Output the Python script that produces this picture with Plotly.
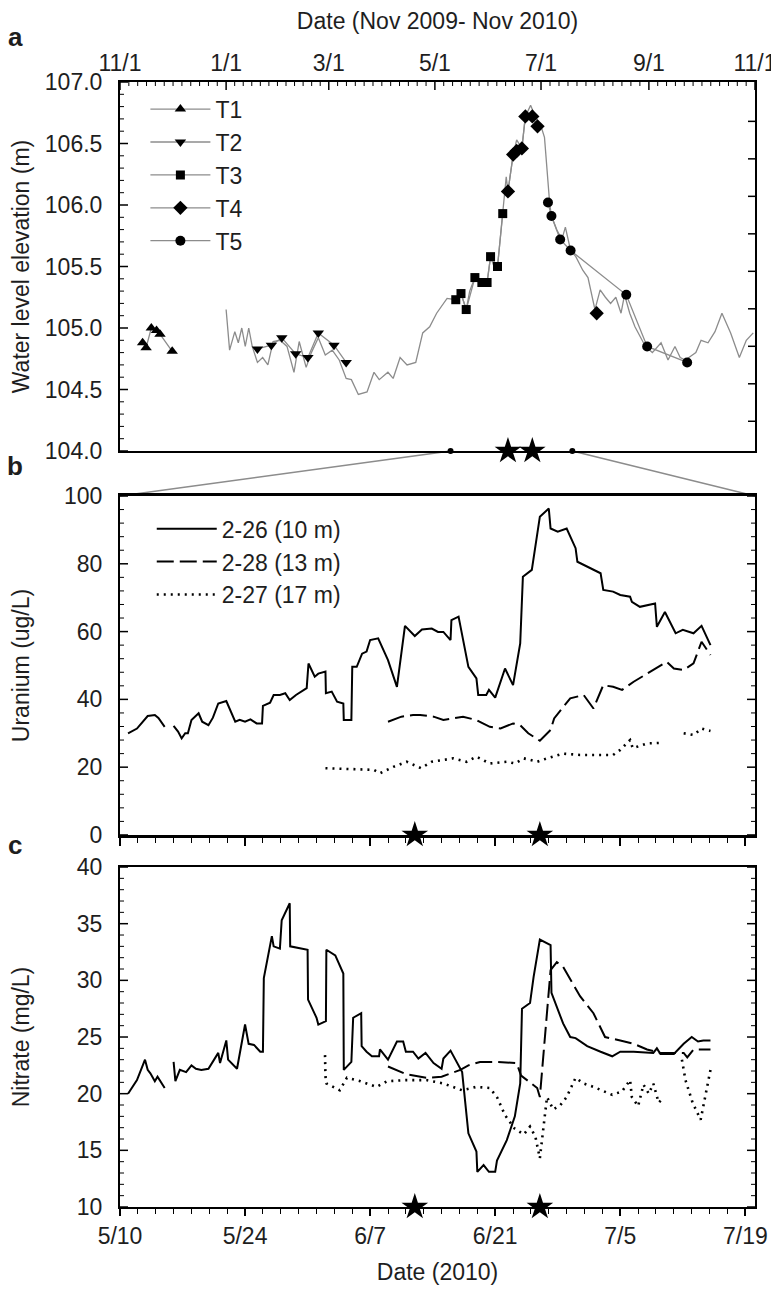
import plotly.graph_objects as go
import pandas as pd
import numpy as np

# ---------------- Panel a: water level (Nov 2009 - Nov 2010) ----------------
hydro_dates = ["2010-01-01", "2010-01-03", "2010-01-06", "2010-01-08", "2010-01-10", "2010-01-12",
               "2010-01-14", "2010-01-16", "2010-01-19", "2010-01-22", "2010-01-25", "2010-01-28",
               "2010-02-01", "2010-02-05", "2010-02-09", "2010-02-12", "2010-02-16", "2010-02-19",
               "2010-02-23", "2010-02-27", "2010-03-03", "2010-03-07", "2010-03-11", "2010-03-14",
               "2010-03-18", "2010-03-23", "2010-03-27", "2010-03-30", "2010-04-04", "2010-04-07",
               "2010-04-11", "2010-04-15", "2010-04-20", "2010-04-24", "2010-04-28", "2010-05-02",
               "2010-05-08", "2010-05-13", "2010-05-16", "2010-05-19", "2010-05-21", "2010-05-24",
               "2010-05-28", "2010-05-31", "2010-06-02", "2010-06-04", "2010-06-06", "2010-06-09",
               "2010-06-11", "2010-06-12", "2010-06-15", "2010-06-17", "2010-06-20", "2010-06-22",
               "2010-06-25", "2010-06-28", "2010-07-01", "2010-07-03", "2010-07-05", "2010-07-06",
               "2010-07-07", "2010-07-10", "2010-07-13", "2010-07-15", "2010-07-18", "2010-07-21",
               "2010-07-25", "2010-07-28", "2010-08-01", "2010-08-04", "2010-08-07", "2010-08-10",
               "2010-08-13", "2010-08-16", "2010-08-18", "2010-08-21", "2010-08-24", "2010-08-27",
               "2010-08-30", "2010-09-03", "2010-09-08", "2010-09-12", "2010-09-16", "2010-09-19",
               "2010-09-22", "2010-09-25", "2010-09-28", "2010-10-01", "2010-10-05", "2010-10-09",
               "2010-10-13", "2010-10-18", "2010-10-23", "2010-10-27", "2010-10-31"]
hydro_level = [105.15, 104.82, 104.97, 104.88, 105.00, 104.85,
               105.00, 104.85, 104.72, 104.76, 104.70, 104.89,
               104.90, 104.85, 104.64, 104.89, 104.68, 104.80,
               104.92, 104.78, 104.82, 104.74, 104.59, 104.58,
               104.46, 104.48, 104.64, 104.58, 104.64, 104.59,
               104.76, 104.70, 104.72, 104.96, 105.01, 105.12,
               105.24, 105.23, 105.28, 105.15, 105.30, 105.41,
               105.37, 105.37, 105.58, 105.50, 105.50, 105.93,
               106.23, 106.11, 106.41, 106.53, 106.46, 106.72,
               106.81, 106.71, 106.64, 106.55, 106.15, 106.01,
               105.91, 105.80, 105.72, 105.82, 105.63, 105.58,
               105.47, 105.41, 105.15, 105.31, 105.25, 105.20,
               105.25, 105.12, 105.27, 105.12, 105.01, 104.93,
               104.85, 104.80, 104.88, 104.74, 104.85, 104.76,
               104.74, 104.77, 104.80, 104.90, 104.88, 104.97,
               105.12, 104.96, 104.76, 104.90, 104.96]

t1_dates = ["2009-11-14", "2009-11-16", "2009-11-19", "2009-11-22", "2009-11-24", "2009-12-01"]
t1_level = [104.88, 104.84, 105.00, 104.98, 104.95, 104.81]
t2_dates = ["2010-01-19", "2010-01-27", "2010-02-02", "2010-02-10", "2010-02-17", "2010-02-23",
            "2010-03-04", "2010-03-11"]
t2_level = [104.83, 104.86, 104.92, 104.79, 104.76, 104.96, 104.86, 104.72]
t3_dates = ["2010-05-13", "2010-05-16", "2010-05-19", "2010-05-24", "2010-05-28", "2010-05-31",
            "2010-06-02", "2010-06-06", "2010-06-09"]
t3_level = [105.23, 105.28, 105.15, 105.41, 105.37, 105.37, 105.58, 105.50, 105.93]
t4_dates = ["2010-06-12", "2010-06-15", "2010-06-17", "2010-06-20", "2010-06-22", "2010-06-26",
            "2010-06-29", "2010-07-15", "2010-08-02"]
t4_level = [106.11, 106.41, 106.44, 106.46, 106.72, 106.72, 106.64, None, 105.12]
t5_dates = ["2010-07-05", "2010-07-07", "2010-07-12", "2010-07-18", "2010-08-19", "2010-08-31",
            "2010-09-23"]
t5_level = [106.02, 105.91, 105.72, 105.63, 105.27, 104.85, 104.72]

event_dates = ["2010-06-12", "2010-06-26"]
zoom_dates = ["2010-05-10", "2010-07-19"]
ft_marks = [342, 343, 344, 345, 346, 347, 348, 349, 350]   # right-hand axis ticks (feet)

# ---------------- Panels b and c: days since 2010-05-10 ----------------
u226_day = [0.9, 1.9, 3.1, 3.9, 4.3, 5.0, 5.5, 6.0, 6.5, 6.9, 7.3, 7.6, 8.0, 8.8, 9.2, 9.9, 10.4,
            11.0, 11.9, 12.9, 13.4, 14.0, 14.6, 15.3, 15.9, 16.0, 16.8, 17.2, 17.9, 18.5, 19.0,
            19.7, 20.9, 21.1, 21.8, 22.2, 23.0, 23.05, 23.7, 24.3, 25.0, 25.05, 25.9, 26.0, 26.5,
            27.1, 27.6, 28.0, 28.9, 30.0, 31.0, 31.9, 33.0, 33.8, 34.9, 35.6, 36.2, 37.0, 37.1,
            37.9, 39.0, 39.9, 40.1, 41.0, 41.3, 42.0, 43.1, 44.0, 44.8, 45.1, 46.1, 47.0, 48.0,
            48.2, 49.0, 50.0, 51.0, 51.2, 52.3, 53.8, 54.1, 55.2, 56.0, 57.1, 57.3, 58.2, 59.9,
            60.1, 61.0, 62.2, 63.0, 64.2, 65.1, 66.1]
u226_val = [30.0, 31.4, 35.1, 35.4, 34.5, 31.9, None, 32.2, 30.5, 28.5, 30.0, 30.0, 33.9, 35.9,
            33.4, 32.4, 34.6, 38.8, 39.5, 33.4, 34.0, 33.4, 34.1, 32.9, 32.9, 38.1, 39.0, 41.3,
            41.3, 41.8, 39.8, 41.3, 43.3, 50.6, 46.7, 47.6, 48.2, 41.8, 42.3, 39.3, 38.8, 33.9,
            33.9, 49.6, 49.6, 53.5, 54.1, 57.5, 58.0, 51.6, 43.7, 61.7, 58.7, 60.6, 60.9, 59.9,
            59.9, 57.5, 63.4, 64.4, 49.6, 46.2, 41.3, 41.3, 42.8, 40.5, 49.1, 44.2, 56.5, 76.2,
            78.2, 93.9, 96.3, 90.4, 89.5, 90.4, 84.6, 80.6, 79.2, 77.2, 72.3, 71.8, 70.8, 70.3,
            68.8, 67.3, 68.3, 61.4, 65.8, 59.5, 60.5, 59.5, 61.7, 56.0]

u228_day = [30.0, 31.5, 32.8, 33.6, 35.1, 36.2, 38.4, 39.9, 41.4, 42.6, 44.0, 44.8, 45.7, 47.0,
            48.2, 48.6, 50.4, 51.9, 53.0, 54.1, 55.2, 56.2, 57.5, 59.0, 60.5, 61.2, 62.0, 63.1,
            64.2, 65.1, 66.1]
u228_val = [33.4, 34.9, 35.4, 35.4, 34.9, 33.9, 34.9, 33.9, 31.9, 31.4, 32.9, 32.4, 30.0, 27.8,
            31.0, 34.4, 40.3, 41.3, 37.3, 44.2, 43.7, 42.8, 45.2, 47.6, 50.1, 51.1, 49.1, 48.7,
            50.6, 57.0, 53.1]

u227_day = [23.0, 25.0, 26.9, 28.4, 29.1, 30.6, 32.1, 33.7, 34.9, 36.2, 37.3, 38.8, 39.9, 41.4,
            43.3, 44.2, 45.2, 46.7, 47.8, 49.6, 51.5, 53.8, 55.2, 56.0, 57.1, 57.4, 59.0, 60.8,
            61.9, 63.1, 64.2, 65.1, 66.1]
u227_val = [19.7, 19.5, 19.2, 19.2, 18.2, 20.1, 21.6, 19.7, 21.6, 22.1, 22.6, 21.6, 23.1, 21.1,
            21.6, 21.1, 22.6, 21.6, 22.6, 24.0, 23.6, 23.6, 23.6, 25.1, 28.0, 25.6, 27.0, 27.2,
            None, 30.0, 29.5, 31.4, 30.7]

n226_day = [0.9, 1.9, 2.8, 3.1, 3.4, 3.9, 4.2, 5.0, 5.5, 6.0, 6.2, 6.7, 7.4, 8.0, 8.5, 9.1, 9.9,
            11.0, 11.2, 11.9, 12.1, 13.1, 14.0, 14.4, 15.0, 15.7, 16.0, 16.1, 17.0, 17.2, 17.9,
            18.1, 19.0, 19.05, 21.0, 21.05, 22.0, 22.2, 23.05, 23.1, 24.1, 25.0, 25.05, 25.9,
            26.1, 27.0, 27.05, 27.6, 28.2, 29.0, 29.1, 30.0, 31.0, 31.7, 32.0, 32.8, 33.4, 34.2,
            35.1, 36.0, 36.2, 37.0, 38.3, 39.0, 39.9, 40.0, 40.7, 41.3, 42.0, 42.2, 43.3, 44.2,
            44.8, 45.0, 45.9, 46.3, 47.0, 48.2, 48.3, 49.6, 50.4, 51.0, 52.3, 53.8, 55.1, 56.0,
            57.5, 59.7, 60.1, 60.5, 62.0, 63.1, 64.0, 64.7, 65.3, 66.1]
n226_val = [20.0, 21.2, 23.0, 22.1, 21.8, 21.1, 21.5, 20.5, None, 22.8, 21.1, 22.1, 21.9, 22.5,
            22.2, 22.1, 22.2, 23.6, 22.7, 24.7, 23.0, 22.2, 26.1, 24.4, 24.3, 23.7, 23.7, 30.2,
            33.9, 33.0, 32.8, 35.3, 36.8, 33.0, 32.7, 28.3, 26.7, 26.1, 26.4, 32.7, 32.2, 30.6,
            22.1, 22.8, 26.7, 27.1, 24.2, 23.7, 23.3, 23.3, 23.9, 23.0, 24.6, 24.6, 23.7, 23.7,
            23.1, 23.6, 22.7, 22.2, 23.1, 23.8, 21.9, 16.5, 14.9, 13.1, 13.7, 13.1, 13.1, 14.1,
            15.9, 18.0, 20.9, 27.5, 28.0, 30.3, 33.6, 33.1, 28.9, 26.2, 25.0, 24.9, 24.2, 23.7,
            23.3, 23.7, 23.7, 23.6, 24.0, 23.5, 23.5, 24.4, 25.0, 24.6, 24.7, 24.7]

n228_day = [30.0, 32.1, 34.3, 36.0, 38.1, 39.0, 40.3, 42.2, 44.4, 44.9, 46.7, 47.0, 48.2, 48.9,
            49.6, 51.5, 53.0, 54.3, 56.0, 57.5, 59.0, 60.5, 62.0, 63.1, 63.5, 64.2, 66.1]
n228_val = [22.4, 21.7, 21.4, 21.5, 22.1, 22.5, 22.8, 22.8, 22.7, 21.6, 20.5, 19.7, 30.9, 31.6,
            31.2, 28.6, 27.1, 25.0, 24.7, 24.4, 23.9, 23.6, 23.6, 23.6, 23.2, 23.9, 23.9]

n227_day = [22.95, 23.0, 23.1, 24.6, 25.4, 26.9, 28.7, 29.9, 32.1, 34.3, 36.2, 38.3, 39.9, 41.4,
            42.2, 43.1, 44.2, 45.2, 45.9, 46.5, 47.0, 47.8, 48.5, 49.3, 50.0, 51.0, 51.9, 53.0,
            55.1, 56.2, 57.1, 57.3, 58.0, 58.6, 59.2, 59.7, 60.3, 60.9, 61.9, 62.9, 63.3, 64.1,
            65.0, 65.5, 66.1]
n227_val = [23.4, 21.5, 20.9, 20.3, 21.4, 21.1, 20.6, 21.1, 21.2, 21.2, 20.9, 20.3, 20.6, 20.5,
            19.7, 18.1, 16.9, 16.4, 17.1, 16.2, 14.3, 19.7, 18.6, 19.0, 19.7, 21.4, 20.9, 20.6,
            19.9, 20.2, 21.2, 19.7, 18.9, 20.8, 20.0, 20.9, 19.2, 19.7, None, 23.0, 21.2, 19.2,
            17.7, 19.7, 22.1]

well_names = ["2-26 (10 m)", "2-28 (13 m)", "2-27 (17 m)"]
a_ticks = ["2009-11-01", "2010-01-01", "2010-03-01", "2010-05-01", "2010-07-01", "2010-09-01",
           "2010-11-01"]
a_ticktext = ["11/1", "1/1", "3/1", "5/1", "7/1", "9/1", "11/1"]
bc_ticks = ["2010-05-10", "2010-05-24", "2010-06-07", "2010-06-21", "2010-07-05", "2010-07-19"]
bc_ticktext = ["5/10", "5/24", "6/7", "6/21", "7/5", "7/19"]

# ---------------- helpers ----------------
BASE = pd.Timestamp("2010-05-10")


def to_dates(days):
    return [BASE + pd.Timedelta(days=d) for d in days]


FONT = "Liberation Sans, Arial, sans-serif"
TXT = "#1e1e1e"
GRAY = "#8c8c8c"
NB = "\u00a0"

A_RANGE = [pd.Timestamp("2009-11-01"), pd.Timestamp("2010-11-01")]
BC_RANGE = [pd.Timestamp("2010-05-10"), pd.Timestamp("2010-07-20 02:00")]
Y_A, Y_B, Y_C = [104, 107], [0, 100], [10, 40]

DOM_A = [0.672, 1.0]
DOM_B = [0.3307, 0.632]
DOM_C = [0.0, 0.3022]
PLOT_W = 635.0
PLOT_H = 1125.0

minor_a = []
for i in range(len(a_ticks) - 1):
    t0 = pd.Timestamp(a_ticks[i]).value
    t1 = pd.Timestamp(a_ticks[i + 1]).value
    for v in np.linspace(t0, t1, 13)[1:-1]:
        minor_a.append(pd.Timestamp(int(v)))
minor_bc = list(pd.date_range("2010-05-10", "2010-07-20", freq="2D"))

fig = go.Figure()

# ---- panel a ----
fig.add_trace(go.Scatter(x=hydro_dates, y=hydro_level, mode="lines", line=dict(color=GRAY, width=1.3),
                         showlegend=False, xaxis="x", yaxis="y", hoverinfo="skip"))
t_series = [("T1", t1_dates, t1_level, "triangle-up", 10),
            ("T2", t2_dates, t2_level, "triangle-down", 10),
            ("T3", t3_dates, t3_level, "square", 9),
            ("T4", t4_dates, t4_level, "diamond", 11),
            ("T5", t5_dates, t5_level, "circle", 10)]
for name, xd, yv, sym, sz in t_series:
    fig.add_trace(go.Scatter(x=xd, y=yv, mode="lines+markers", name=name,
                             line=dict(color=GRAY, width=1.3),
                             marker=dict(symbol=sym, size=sz, color="black"),
                             connectgaps=False, xaxis="x", yaxis="y", legend="legend"))

fig.add_trace(go.Scatter(x=zoom_dates, y=[104.0, 104.0], mode="markers",
                         marker=dict(size=6, color="black"), showlegend=False,
                         xaxis="x", yaxis="y", cliponaxis=False))
fig.add_trace(go.Scatter(x=event_dates, y=[104.0, 104.0], mode="markers",
                         marker=dict(symbol="star", size=20, color="black"), showlegend=False,
                         xaxis="x", yaxis="y", cliponaxis=False))

# ---- panel b ----
line_styles = [dict(color="black", width=2),
               dict(color="black", width=2, dash="17px,6px"),
               dict(color="black", width=2.6, dash="2px,5px")]
u_sets = [(u226_day, u226_val), (u228_day, u228_val), (u227_day, u227_val)]
for name, (dd, vv), ls in zip(well_names, u_sets, line_styles):
    fig.add_trace(go.Scatter(x=to_dates(dd), y=vv, mode="lines", name=name, line=ls,
                             connectgaps=False, xaxis="x2", yaxis="y2", legend="legend2"))
fig.add_trace(go.Scatter(x=event_dates, y=[0, 0], mode="markers",
                         marker=dict(symbol="star", size=20, color="black"), showlegend=False,
                         xaxis="x2", yaxis="y2", cliponaxis=False))

# ---- panel c ----
n_sets = [(n226_day, n226_val), (n228_day, n228_val), (n227_day, n227_val)]
for name, (dd, vv), ls in zip(well_names, n_sets, line_styles):
    fig.add_trace(go.Scatter(x=to_dates(dd), y=vv, mode="lines", name=name, line=ls,
                             connectgaps=False, showlegend=False, xaxis="x3", yaxis="y3"))
fig.add_trace(go.Scatter(x=event_dates, y=[10, 10], mode="markers",
                         marker=dict(symbol="star", size=20, color="black"), showlegend=False,
                         xaxis="x3", yaxis="y3", cliponaxis=False))


# ---- inward tick marks, built from each axis' tick values ----
def tick_trace_y(xa, ya, xr, vals, length, sides, width):
    d = (xr[1] - xr[0]) * (length / PLOT_W)
    xs, ys = [], []
    for v in vals:
        for s in sides:
            xs += ([xr[0], xr[0] + d, None] if s == "l" else [xr[1] - d, xr[1], None])
            ys += [v, v, None]
    fig.add_trace(go.Scatter(x=xs, y=ys, mode="lines", line=dict(color="black", width=width),
                             xaxis=xa, yaxis=ya, showlegend=False, hoverinfo="skip",
                             cliponaxis=False))


def tick_trace_x(xa, ya, yr, dom, vals, length, at_top, inward, width):
    d = (yr[1] - yr[0]) * length / (PLOT_H * (dom[1] - dom[0]))
    xs, ys = [], []
    for v in vals:
        if at_top:
            y0, y1 = yr[1], (yr[1] - d if inward else yr[1] + d)
        else:
            y0, y1 = yr[0], (yr[0] + d if inward else yr[0] - d)
        xs += [v, v, None]
        ys += [y0, y1, None]
    fig.add_trace(go.Scatter(x=xs, y=ys, mode="lines", line=dict(color="black", width=width),
                             xaxis=xa, yaxis=ya, showlegend=False, hoverinfo="skip",
                             cliponaxis=False))


a_major_y = list(np.arange(104.0, 107.01, 0.5))
a_minor_y = [v for v in np.arange(104.1, 107.0, 0.1) if abs(round(v * 2) - v * 2) > 0.05]
tick_trace_y("x", "y", A_RANGE, a_major_y, 8, ("l",), 1.5)
tick_trace_y("x", "y", A_RANGE, a_minor_y, 4, ("l",), 1)
tick_trace_y("x", "y", A_RANGE, [f * 0.3048 for f in ft_marks], 7, ("r",), 1.5)
tick_trace_x("x", "y", Y_A, DOM_A, [pd.Timestamp(t) for t in a_ticks], 8, True, True, 1.5)
tick_trace_x("x", "y", Y_A, DOM_A, minor_a, 4, True, True, 1)
tick_trace_x("x", "y", Y_A, DOM_A, [pd.Timestamp(t) for t in a_ticks], 7, False, False, 1.5)
tick_trace_x("x", "y", Y_A, DOM_A, minor_a, 4, False, False, 1)

tick_trace_y("x2", "y2", BC_RANGE, list(range(0, 101, 20)), 8, ("l", "r"), 1.5)
tick_trace_y("x2", "y2", BC_RANGE, [v for v in range(4, 100, 4) if v % 20], 4, ("l", "r"), 1)
tick_trace_y("x3", "y3", BC_RANGE, list(range(10, 41, 5)), 8, ("l", "r"), 1.5)
tick_trace_y("x3", "y3", BC_RANGE, [v for v in range(11, 40) if v % 5], 4, ("l", "r"), 1)

tickfont = dict(family=FONT, size=23, color=TXT)
titlefont = dict(family=FONT, size=23, color=TXT)

base_y = dict(showgrid=False, zeroline=False, showline=True, linecolor="black", linewidth=2,
              ticks="", tickfont=tickfont, ticksuffix=NB + "\u2009", automargin=False, mirror=True)

fig.update_layout(
    template="none",
    width=771, height=1283,
    margin=dict(l=112, r=24, t=74, b=84, autoexpand=False),
    paper_bgcolor="white", plot_bgcolor="rgba(0,0,0,0)",
    font=dict(family=FONT, color=TXT),
    xaxis=dict(domain=[0, 1], anchor="y", type="date", range=A_RANGE, side="top",
               tickmode="array", tickvals=a_ticks, ticktext=a_ticktext, ticks="",
               showline=True, linecolor="black", linewidth=2, mirror=True,
               showgrid=False, zeroline=False, tickfont=tickfont, automargin=False,
               title=dict(text="Date (Nov 2009- Nov 2010)", font=titlefont, standoff=23)),
    yaxis=dict(domain=DOM_A, anchor="x", range=Y_A, tickmode="linear", tick0=104, dtick=0.5,
               tickformat=".1f",
               title=dict(text="Water level elevation (m)", font=titlefont, standoff=20),
               **base_y),
    xaxis2=dict(domain=[0, 1], anchor="y2", type="date", range=BC_RANGE,
                tickmode="array", tickvals=bc_ticks, ticktext=bc_ticktext, showticklabels=False,
                ticks="outside", ticklen=8, tickwidth=1.5, tickcolor="black",
                minor=dict(tickmode="array", tickvals=minor_bc, ticks="outside", ticklen=5,
                           tickwidth=1.2, tickcolor="black"),
                showline=True, linecolor="black", linewidth=2.5, mirror=True,
                showgrid=False, zeroline=False, automargin=False),
    yaxis2=dict(domain=DOM_B, anchor="x2", range=Y_B, tickmode="linear", tick0=0, dtick=20,
                title=dict(text="Uranium (ug/L)", font=titlefont, standoff=30),
                **base_y),
    xaxis3=dict(domain=[0, 1], anchor="y3", type="date", range=BC_RANGE,
                tickmode="array", tickvals=bc_ticks, ticktext=bc_ticktext,
                ticks="outside", ticklen=7, tickwidth=1.5, tickcolor="black",
                minor=dict(tickmode="array", tickvals=minor_bc, ticks="outside", ticklen=5,
                           tickwidth=1.2, tickcolor="black"),
                showline=True, linecolor="black", linewidth=2, mirror=True,
                showgrid=False, zeroline=False, tickfont=tickfont, automargin=False,
                title=dict(text="Date (2010)", font=titlefont, standoff=16)),
    yaxis3=dict(domain=DOM_C, anchor="x3", range=Y_C, tickmode="linear", tick0=10, dtick=5,
                title=dict(text="Nitrate (mg/L)", font=titlefont, standoff=42),
                **base_y),
    legend=dict(x=0.04, y=0.995, xanchor="left", yanchor="top", bgcolor="rgba(0,0,0,0)",
                font=dict(family=FONT, size=23, color=TXT), itemwidth=60, tracegroupgap=0),
    legend2=dict(x=0.05, y=0.622, xanchor="left", yanchor="top", bgcolor="rgba(0,0,0,0)",
                 font=dict(family=FONT, size=23, color=TXT), itemwidth=60),
    showlegend=True,
)

span = (A_RANGE[1] - A_RANGE[0])
xf0 = (pd.Timestamp(zoom_dates[0]) - A_RANGE[0]) / span
xf1 = (pd.Timestamp(zoom_dates[1]) - A_RANGE[0]) / span
for xa, xb in [(xf0, 0.0), (xf1, 1.0)]:
    fig.add_shape(type="line", xref="paper", yref="paper", x0=xa, y0=DOM_A[0], x1=xb, y1=DOM_B[1],
                  line=dict(color=GRAY, width=1.5), layer="below")

for letter, yy in [("a", DOM_A[1] + 0.040), ("b", DOM_B[1] + 0.027), ("c", DOM_C[1] + 0.020)]:
    fig.add_annotation(text="<b>%s</b>" % letter, xref="paper", yref="paper", x=-0.165, y=yy,
                       xanchor="center", yanchor="middle", showarrow=False,
                       font=dict(family=FONT, size=26, color=TXT))

fig.write_html("out.html")
